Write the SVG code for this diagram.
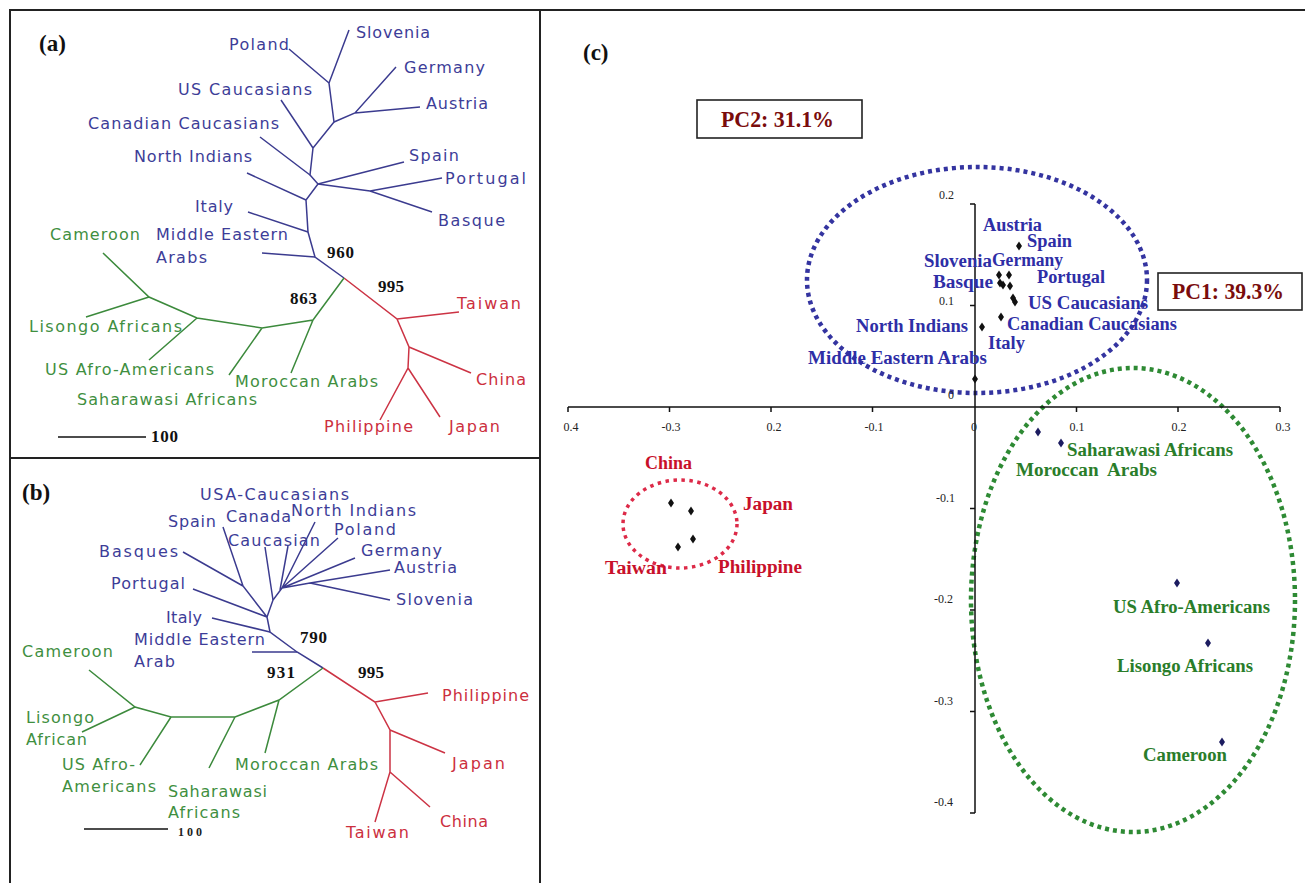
<svg xmlns="http://www.w3.org/2000/svg" width="1305" height="883" viewBox="0 0 1305 883">
<style>
.t{font-family:"DejaVu Sans",sans-serif;font-size:16px}
.tb{fill:#3d3d98}.tg{fill:#3f8f3f}.tr{fill:#cc2f3e}
.num{font-family:"Liberation Serif",serif;font-weight:bold;font-size:17px;fill:#111}
.pan{font-family:"Liberation Serif",serif;font-weight:bold;font-size:23px;fill:#111}
.pl{font-family:"Liberation Serif",serif;font-weight:bold;font-size:18px}
.pb{fill:#2e2ea6}.pg{fill:#2a7d2a}.pr{fill:#c8102a}
.pc{font-family:"Liberation Serif",serif;font-weight:bold;font-size:23px;fill:#7a0c0c}
.tick{font-family:"Liberation Serif",serif;font-size:12px;fill:#222}
.lb{fill:none;stroke:#3b3b8f;stroke-width:1.5}
.lg{fill:none;stroke:#3c8a3c;stroke-width:1.5}
.lr{fill:none;stroke:#cc3344;stroke-width:1.5}
.frame{fill:none;stroke:#222;stroke-width:2}
.axis{fill:none;stroke:#111;stroke-width:1.5}
.box{fill:#fff;stroke:#222;stroke-width:1.6}
</style>
<defs>
<path id="dm" d="M0,-4.5 L3,0 L0,4.5 L-3,0 Z"/>
</defs>
<rect width="1305" height="883" fill="#fff"/>
<g id="frames">
<path class="frame" d="M10,883 V10 H1305 M540,10 V883 M10,458 H540"/>
</g>

<g id="connectors">
<g id="tree-a">
<path class="lb" d="M349,30 L329,83 L334,122 L313,148 L310,175 L318,184 L306,200 L308,232 L315,257 L344,278"/>
<path class="lb" d="M289,49 L329,83 M396,67 L355,113 L334,122 M420,107 L355,113 M281,100 L313,148 M260,137 L310,175 M318,184 L404,162 M318,184 L370,191 L432,212 M370,191 L442,178 M247,173 L306,200 M248,212 L308,232 M262,253 L315,257"/>
<path class="lr" d="M344,278 L397,319 L409,347 L408,368 L380,420 M397,319 L459,312 M409,347 L471,373 M408,368 L440,417"/>
<path class="lg" d="M344,278 L313,320 L262,328 L197,318 L149,297 L103,253 M313,320 L291,373 M262,328 L229,375 M197,318 L149,360 M149,297 L86,317"/>
<path class="axis" d="M58,437 H146"/>
</g>
<g id="tree-b">
<path class="lb" d="M282,588 L273,600 L267,617 L270,632 L297,652 L323,668"/>
<path class="lb" d="M315,522 L282,588 M338,538 L282,588 M355,558 L282,588 M390,570 L310,583 L282,588 M390,600 L310,583 M288,546 L280,590 M265,547 L273,600 M223,527 L243,586 L267,617 M183,552 L243,586 M193,589 L267,617 M212,618 L270,632 M252,652 L297,652"/>
<path class="lr" d="M323,668 L375,702 L390,730 L390,772 L375,822 M375,702 L428,693 M390,730 L445,753 M390,772 L430,807"/>
<path class="lg" d="M323,668 L279,700 L235,717 L171,717 L135,707 L89,670 M279,700 L265,753 M235,717 L209,768 M171,717 L140,765 M135,707 L82,732"/>
<path class="axis" d="M84,829 H168"/>
</g>
</g>

<g id="panel-a">
<text class="pan" x="39" y="51">(a)</text>
<g id="a-poland"><text class="t tb" x="229" y="50" textLength="60">Poland</text></g>
<g id="a-slovenia"><text class="t tb" x="356" y="38" textLength="74">Slovenia</text></g>
<g id="a-germany"><text class="t tb" x="404" y="73" textLength="81">Germany</text></g>
<g id="a-uscauc"><text class="t tb" x="178" y="95" textLength="134">US Caucasians</text></g>
<g id="a-austria"><text class="t tb" x="426" y="109" textLength="62">Austria</text></g>
<g id="a-cancauc"><text class="t tb" x="88" y="129" textLength="191">Canadian Caucasians</text></g>
<g id="a-northind"><text class="t tb" x="134" y="162" textLength="118">North Indians</text></g>
<g id="a-spain"><text class="t tb" x="409" y="161" textLength="50">Spain</text></g>
<g id="a-portugal"><text class="t tb" x="445" y="184" textLength="81">Portugal</text></g>
<g id="a-italy"><text class="t tb" x="195" y="212" textLength="38">Italy</text></g>
<g id="a-basque"><text class="t tb" x="438" y="226" textLength="67">Basque</text></g>
<g id="a-mea"><text class="t tb" x="156" y="240" textLength="132">Middle Eastern</text><text class="t tb" x="156" y="263" textLength="51">Arabs</text></g>
<g id="a-cameroon"><text class="t tg" x="50" y="240" textLength="90">Cameroon</text></g>
<g id="a-lisongo"><text class="t tg" x="29" y="332" textLength="153">Lisongo Africans</text></g>
<g id="a-usafro"><text class="t tg" x="45" y="375" textLength="169">US Afro-Americans</text></g>
<g id="a-moroccan"><text class="t tg" x="235" y="387" textLength="143">Moroccan Arabs</text></g>
<g id="a-saharawasi"><text class="t tg" x="77" y="405" textLength="180">Saharawasi Africans</text></g>
<g id="a-taiwan"><text class="t tr" x="457" y="309" textLength="64">Taiwan</text></g>
<g id="a-china"><text class="t tr" x="476" y="385" textLength="50">China</text></g>
<g id="a-philippine"><text class="t tr" x="324" y="432" textLength="89">Philippine</text></g>
<g id="a-japan"><text class="t tr" x="449" y="432" textLength="51">Japan</text></g>
<text class="num" x="327" y="258" textLength="27">960</text>
<text class="num" x="378" y="292" textLength="26">995</text>
<text class="num" x="290" y="304" textLength="27">863</text>
<text class="num" x="151" y="442" textLength="27">100</text>
</g>

<g id="panel-b">
<text class="pan" x="22" y="500">(b)</text>
<g id="b-usacauc"><text class="t tb" x="200" y="500" textLength="149">USA-Caucasians</text></g>
<g id="b-canada"><text class="t tb" x="226" y="522" textLength="65">Canada</text><text class="t tb" x="228" y="546" textLength="92">Caucasian</text></g>
<g id="b-northind"><text class="t tb" x="291" y="516" textLength="125">North Indians</text></g>
<g id="b-spain"><text class="t tb" x="168" y="527" textLength="48">Spain</text></g>
<g id="b-poland"><text class="t tb" x="334" y="535" textLength="62">Poland</text></g>
<g id="b-basques"><text class="t tb" x="99" y="557" textLength="79">Basques</text></g>
<g id="b-germany"><text class="t tb" x="361" y="556" textLength="81">Germany</text></g>
<g id="b-austria"><text class="t tb" x="394" y="573" textLength="63">Austria</text></g>
<g id="b-portugal"><text class="t tb" x="111" y="589" textLength="74">Portugal</text></g>
<g id="b-slovenia"><text class="t tb" x="396" y="605" textLength="77">Slovenia</text></g>
<g id="b-italy"><text class="t tb" x="166" y="623" textLength="36">Italy</text></g>
<g id="b-mea"><text class="t tb" x="134" y="645" textLength="131">Middle Eastern</text><text class="t tb" x="134" y="667" textLength="41">Arab</text></g>
<g id="b-cameroon"><text class="t tg" x="22" y="657" textLength="91">Cameroon</text></g>
<g id="b-lisongo"><text class="t tg" x="26" y="723" textLength="68">Lisongo</text><text class="t tg" x="26" y="745" textLength="61">African</text></g>
<g id="b-usafro"><text class="t tg" x="62" y="770" textLength="73">US Afro-</text><text class="t tg" x="62" y="792" textLength="94">Americans</text></g>
<g id="b-moroccan"><text class="t tg" x="235" y="770" textLength="143">Moroccan Arabs</text></g>
<g id="b-saharawasi"><text class="t tg" x="168" y="797" textLength="99">Saharawasi</text><text class="t tg" x="168" y="818" textLength="72">Africans</text></g>
<g id="b-philippine"><text class="t tr" x="442" y="701" textLength="87">Philippine</text></g>
<g id="b-japan"><text class="t tr" x="452" y="769" textLength="53">Japan</text></g>
<g id="b-china"><text class="t tr" x="440" y="827" textLength="48">China</text></g>
<g id="b-taiwan"><text class="t tr" x="346" y="838" textLength="63">Taiwan</text></g>
<text class="num" x="300" y="643" textLength="27">790</text>
<text class="num" x="267" y="678" textLength="28">931</text>
<text class="num" x="358" y="678" textLength="26">995</text>
<text class="tick" x="178" y="836" font-size="13" font-weight="bold" textLength="24">100</text>
</g>

<g id="panel-c">
<text class="pan" x="583" y="60">(c)</text>
<g id="pc2"><rect class="box" x="697" y="100" width="165" height="38"/><text class="pc" x="721" y="127" textLength="113" lengthAdjust="spacingAndGlyphs">PC2: 31.1%</text></g>
<g id="pc1"><rect class="box" x="1158" y="273" width="144" height="37"/><text class="pc" x="1172" y="299" textLength="112" lengthAdjust="spacingAndGlyphs">PC1: 39.3%</text></g>

<g id="clusters">
<ellipse cx="977" cy="280" rx="170" ry="113" fill="none" stroke="#3434a0" stroke-width="4.5" stroke-dasharray="4 4"/>
<ellipse cx="1133" cy="600" rx="162" ry="232" fill="none" stroke="#2e8a34" stroke-width="4.5" stroke-dasharray="4 4"/>
<ellipse cx="680" cy="524" rx="57" ry="44" fill="none" stroke="#dd2a48" stroke-width="3.5" stroke-dasharray="3.5 4.5"/>
</g>

<g id="axes">
<path class="axis" d="M975,204 V813 M568,407 H1280"/>
<path class="axis" d="M970,204 H975 M970,305.5 H975 M970,508.5 H975 M970,610 H975 M970,711.5 H975 M970,813 H975 M568,407 V412 M669.5,407 V412 M771,407 V412 M872.5,407 V412 M1076.5,407 V412 M1178,407 V412 M1280,407 V412"/>
<g text-anchor="end">
<text class="tick" x="954" y="199">0.2</text>
<text class="tick" x="954" y="305">0.1</text>
<text class="tick" x="954" y="399">0</text>
<text class="tick" x="955" y="502">-0.1</text>
<text class="tick" x="953" y="603">-0.2</text>
<text class="tick" x="953" y="705">-0.3</text>
<text class="tick" x="953" y="806">-0.4</text>
</g>
<g text-anchor="middle">
<text class="tick" x="571" y="431">0.4</text>
<text class="tick" x="671" y="431">-0.3</text>
<text class="tick" x="774" y="431">0.2</text>
<text class="tick" x="874" y="431">-0.1</text>
<text class="tick" x="974" y="431">0</text>
<text class="tick" x="1077" y="431">0.1</text>
<text class="tick" x="1179" y="431">0.2</text>
<text class="tick" x="1283" y="431">0.3</text>
</g>
</g>

<g id="points" fill="#111">
<use href="#dm" x="1019" y="246"/><use href="#dm" x="999" y="275"/><use href="#dm" x="1009" y="275"/>
<use href="#dm" x="1000" y="283"/><use href="#dm" x="1003" y="285"/><use href="#dm" x="1010" y="286"/>
<use href="#dm" x="1013" y="298"/><use href="#dm" x="1015" y="302"/><use href="#dm" x="1001" y="317"/>
<use href="#dm" x="982" y="327"/><use href="#dm" x="975" y="379"/>
<use href="#dm" x="671" y="503"/><use href="#dm" x="691" y="511"/><use href="#dm" x="693" y="539"/><use href="#dm" x="678" y="547"/>
<g fill="#1c1c60">
<use href="#dm" x="1038" y="432"/><use href="#dm" x="1061" y="443"/><use href="#dm" x="1177" y="583"/>
<use href="#dm" x="1208" y="643"/><use href="#dm" x="1222" y="742"/>
</g>
</g>

<g id="c-labels">
<g id="c-austria"><text class="pl pb" x="983" y="231" textLength="59" lengthAdjust="spacingAndGlyphs">Austria</text></g>
<g id="c-spain"><text class="pl pb" x="1027" y="247" textLength="45" lengthAdjust="spacingAndGlyphs">Spain</text></g>
<g id="c-slovenia"><text class="pl pb" x="924" y="267" textLength="68" lengthAdjust="spacingAndGlyphs">Slovenia</text></g>
<g id="c-germany"><text class="pl pb" x="992" y="266" textLength="71" lengthAdjust="spacingAndGlyphs">Germany</text></g>
<g id="c-portugal"><text class="pl pb" x="1037" y="283" textLength="68" lengthAdjust="spacingAndGlyphs">Portugal</text></g>
<g id="c-basque"><text class="pl pb" x="933" y="288" textLength="60" lengthAdjust="spacingAndGlyphs">Basque</text></g>
<g id="c-uscauc"><text class="pl pb" x="1028" y="309" textLength="120" lengthAdjust="spacingAndGlyphs">US Caucasians</text></g>
<g id="c-cancauc"><text class="pl pb" x="1007" y="330" textLength="170" lengthAdjust="spacingAndGlyphs">Canadian Caucasians</text></g>
<g id="c-northind"><text class="pl pb" x="856" y="332" textLength="112" lengthAdjust="spacingAndGlyphs">North Indians</text></g>
<g id="c-italy"><text class="pl pb" x="988" y="349" textLength="37" lengthAdjust="spacingAndGlyphs">Italy</text></g>
<g id="c-mea"><text class="pl pb" x="808" y="364" textLength="179" lengthAdjust="spacingAndGlyphs">Middle Eastern Arabs</text></g>
<g id="c-china"><text class="pl pr" x="645" y="469" textLength="47" lengthAdjust="spacingAndGlyphs">China</text></g>
<g id="c-japan"><text class="pl pr" x="743" y="510" textLength="50" lengthAdjust="spacingAndGlyphs">Japan</text></g>
<g id="c-taiwan"><text class="pl pr" x="605" y="574" textLength="62" lengthAdjust="spacingAndGlyphs">Taiwan</text></g>
<g id="c-philippine"><text class="pl pr" x="718" y="573" textLength="84" lengthAdjust="spacingAndGlyphs">Philippine</text></g>
<g id="c-saharawasi"><text class="pl pg" x="1067" y="456" textLength="166" lengthAdjust="spacingAndGlyphs">Saharawasi Africans</text></g>
<g id="c-moroccan"><text class="pl pg" x="1016" y="476" textLength="141" lengthAdjust="spacingAndGlyphs" xml:space="preserve">Moroccan  Arabs</text></g>
<g id="c-usafro"><text class="pl pg" x="1113" y="613" textLength="157" lengthAdjust="spacingAndGlyphs">US Afro-Americans</text></g>
<g id="c-lisongo"><text class="pl pg" x="1117" y="672" textLength="136" lengthAdjust="spacingAndGlyphs">Lisongo Africans</text></g>
<g id="c-cameroon"><text class="pl pg" x="1143" y="761" textLength="84" lengthAdjust="spacingAndGlyphs">Cameroon</text></g>
</g>
</g>
</svg>
